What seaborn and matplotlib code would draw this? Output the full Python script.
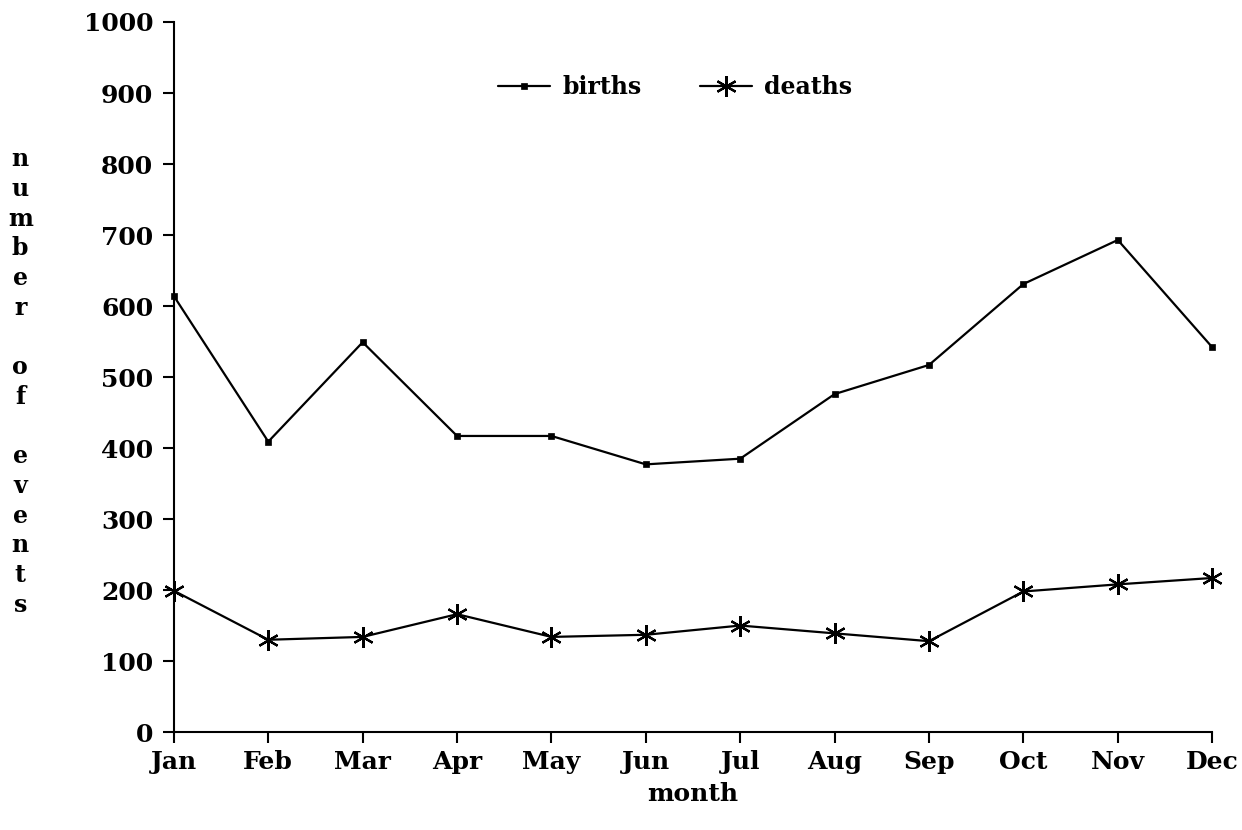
import matplotlib
matplotlib.use("Agg")
import matplotlib.pyplot as plt
import seaborn as sns
import pandas as pd

# --- data ---
months = ['Jan', 'Feb', 'Mar', 'Apr', 'May', 'Jun',
          'Jul', 'Aug', 'Sep', 'Oct', 'Nov', 'Dec']
births = [614, 409, 549, 417, 417, 377, 385, 476, 517, 631, 693, 542]
deaths = [199, 130, 134, 166, 134, 137, 150, 139, 128, 198, 208, 217]
y_ticks = [0, 100, 200, 300, 400, 500, 600, 700, 800, 900, 1000]

sns.set_style("ticks")
plt.rcParams.update({
    'font.family': ['DejaVu Serif'],
    'font.weight': 'bold',
    'text.color': 'black',
    'axes.labelcolor': 'black',
    'xtick.color': 'black',
    'ytick.color': 'black',
    'axes.edgecolor': 'black',
    'axes.linewidth': 1.5,
    'xtick.major.width': 1.5,
    'ytick.major.width': 1.5,
    'xtick.major.size': 8,
    'ytick.major.size': 8,
})

df = pd.DataFrame({
    'x': list(range(len(months))) * 2,
    'value': births + deaths,
    'series': ['births'] * len(months) + ['deaths'] * len(months),
})

fig = plt.figure(figsize=(12.42, 8.30), dpi=100)
ax = fig.add_axes([0.140, 0.118, 0.836, 0.8555])

sns.lineplot(data=df[df.series == 'births'], x='x', y='value', ax=ax,
             color='black', linewidth=1.6, marker='s', markersize=5,
             markeredgecolor='black', markeredgewidth=0.5, label='births')
sns.lineplot(data=df[df.series == 'deaths'], x='x', y='value', ax=ax,
             color='black', linewidth=1.6, marker=(6, 2, 0), markersize=15,
             markeredgecolor='black', markeredgewidth=1.6, label='deaths')
for ln in ax.lines:
    ln.set_clip_on(False)

ax.set_xlim(0, len(months) - 1)
ax.set_ylim(0, 1000)
ax.set_xticks(range(len(months)))
ax.set_xticklabels(months)
ax.set_yticks(y_ticks)
ax.tick_params(axis='both', labelsize=18, pad=5)
ax.tick_params(axis='y', pad=7)
sns.despine(ax=ax)

ax.set_xlabel('month', fontsize=18, fontweight='bold', labelpad=6)
ax.set_ylabel('\n'.join('number of events'), fontsize=17, fontweight='bold',
              rotation=0, linespacing=1.30, ha='center', va='center')
ax.yaxis.set_label_coords(-0.148, 0.493)

ax.legend(loc='center', bbox_to_anchor=(0.483, 0.908), ncol=2, frameon=False,
          handlelength=2.2, columnspacing=2.5, handletextpad=0.5,
          prop={'weight': 'bold', 'size': 17})

fig.savefig('out.png', dpi=100)
